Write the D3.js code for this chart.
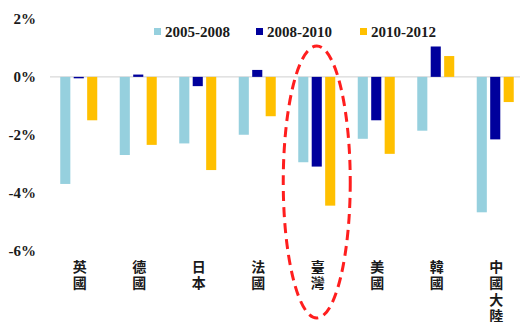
<!DOCTYPE html>
<html><head><meta charset="utf-8">
<script src="https://cdn.jsdelivr.net/npm/d3@7"></script>
<style>body{margin:0;background:#fff}svg{display:block}</style>
</head><body>
<svg id="c" width="520" height="322"></svg>
<script>
const categories = ["英國","德國","日本","法國","臺灣","美國","韓國","中國大陸"];
const seriesNames = ["2005-2008","2008-2010","2010-2012"];
const s2005_2008 = [-3.7,-2.7,-2.3,-2.0,-2.95,-2.14,-1.86,-4.68];
const s2008_2010 = [-0.05,0.08,-0.32,0.24,-3.1,-1.5,1.05,-2.16];
const s2010_2012 = [-1.5,-2.35,-3.22,-1.36,-4.45,-2.66,0.72,-0.87];
const yTicks = [2,0,-2,-4,-6];
const colors = ["#96D0DE","#00009C","#FFC000"];
const seriesValues = [s2005_2008,s2008_2010,s2010_2012];

const svg = d3.select("#c");
const x = d3.scaleBand().domain(categories).range([49,525]);
const xi = d3.scaleBand().domain(seriesNames).range([-18.5,18.5]).paddingInner(0.25);
const y = d3.scaleLinear().domain([-6,2]).range([250.5,19]);

// zero line
svg.append("line").attr("x1",50).attr("x2",520).attr("y1",y(0)).attr("y2",y(0))
  .attr("stroke","#d9d9d9").attr("stroke-width",1.2);

// y labels
svg.append("g").selectAll("text").data(yTicks).join("text")
  .attr("x",36).attr("y",d=>y(d)).attr("dy","0.35em").attr("text-anchor","end")
  .attr("font-family","'Liberation Serif','Times New Roman',serif").attr("font-weight","bold")
  .attr("font-size",15).attr("fill","#1a1a1a").text(d=>d+"%");

// bars
seriesNames.forEach((s,si)=>{
  svg.append("g").selectAll("rect").data(categories).join("rect")
    .attr("x",(c)=>x(c)+x.bandwidth()/2+xi(s))
    .attr("width",xi.bandwidth())
    .attr("y",(c,i)=>y(Math.max(0,seriesValues[si][i])))
    .attr("height",(c,i)=>Math.abs(y(seriesValues[si][i])-y(0)))
    .attr("fill",colors[si]);
});

// category labels (vertical)
const cl = svg.append("g").selectAll("text").data(categories).join("text")
  .attr("font-family","'Noto Sans CJK TC','Noto Sans CJK SC',serif").attr("font-weight","bold")
  .attr("font-size",14).attr("fill","#1a1a1a").attr("text-anchor","middle");
cl.each(function(c){
  const t = d3.select(this);
  Array.from(c).forEach((ch,k)=>{
    t.append("tspan").attr("x",x(c)+x.bandwidth()/2+1).attr("y",272+k*16.3).text(ch);
  });
});

// legend
const lg = svg.append("g");
const legX = [154,256,360];
seriesNames.forEach((s,i)=>{
  lg.append("rect").attr("x",legX[i]).attr("y",28).attr("width",7).attr("height",7).attr("fill",colors[i]);
  lg.append("text").attr("x",legX[i]+11).attr("y",31.5).attr("dy","0.35em")
    .attr("font-family","'Liberation Serif','Times New Roman',serif").attr("font-weight","bold")
    .attr("font-size",15).attr("fill","#1a1a1a").text(s);
});

// red dashed ellipse around Taiwan
const tw = x("臺灣")+x.bandwidth()/2;
svg.append("ellipse").attr("cx",tw).attr("cy",182).attr("rx",33.5).attr("ry",136)
  .attr("fill","none").attr("stroke","#FF1E1E").attr("stroke-width",3)
  .attr("stroke-dasharray","10,6");
</script>
</body></html>
